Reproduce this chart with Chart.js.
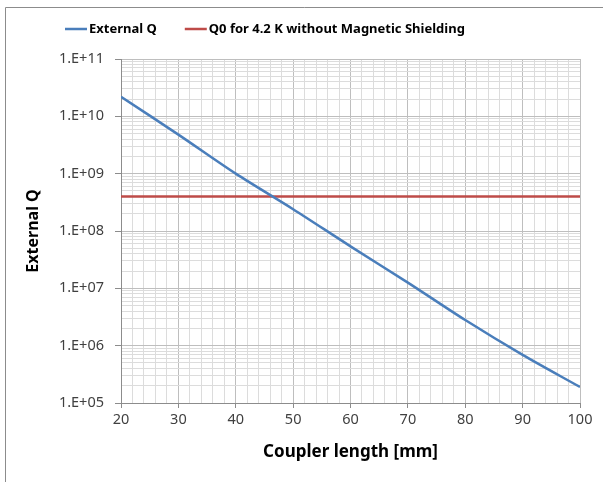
<!DOCTYPE html>
<html>
<head>
<meta charset="utf-8">
<script src="https://cdn.jsdelivr.net/npm/chart.js@4"></script>
<style>
  body { margin: 0; background: #fff; }
  #wrap { width: 603px; height: 482px; }
</style>
</head>
<body>
<div id="wrap"><canvas id="chart" width="603" height="482"></canvas></div>
<script>
const couplerLength = [20, 30, 40, 50, 60, 70, 80, 90, 100];
const externalQ = [2.2e10, 4.8e9, 1.0e9, 2.4e8, 5.4e7, 1.26e7, 2.8e6, 6.9e5, 1.9e5];
const q0Length = [20, 100];
const q0Values = [4e8, 4e8];
const seriesNames = ["External Q", "Q0 for 4.2 K without Magnetic Shielding"];
const seriesColors = ["#4a7ebb", "#be4b48"];

// log gridlines: 1..9 per decade from 1e5 to 1e11
const yTicks = [];
for (let e = 5; e <= 10; e++) {
  for (let s = 1; s <= 9; s++) yTicks.push(s * Math.pow(10, e));
}
yTicks.push(1e11);

function isDecade(v) {
  const l = Math.log10(v);
  return Math.abs(l - Math.round(l)) < 1e-9;
}

const fontFamily = "'Noto Sans', 'DejaVu Sans', sans-serif";

const frameAndLegend = {
  id: 'frameAndLegend',
  afterDraw(chart) {
    const ctx = chart.ctx;
    ctx.save();
    // outer frame (only left/top visible in the crop)
    ctx.strokeStyle = '#8c8c8c';
    ctx.lineWidth = 1;
    ctx.beginPath();
    ctx.moveTo(5.5, 482);
    ctx.lineTo(5.5, 7.5);
    ctx.lineTo(603, 7.5);
    ctx.stroke();

    // legend
    ctx.font = "bold 13px " + fontFamily;
    ctx.textBaseline = 'middle';
    ctx.fillStyle = '#000';
    const y = 29;
    let x = 65;
    seriesNames.forEach((name, i) => {
      ctx.strokeStyle = seriesColors[i];
      ctx.lineWidth = 2.5;
      ctx.beginPath();
      ctx.moveTo(x, y);
      ctx.lineTo(x + 22, y);
      ctx.stroke();
      ctx.fillText(name, x + 24, y);
      x += 24 + ctx.measureText(name).width + 28;
    });
    ctx.restore();
  }
};

new Chart(document.getElementById('chart'), {
  type: 'line',
  data: {
    datasets: [{
      label: seriesNames[0],
      data: couplerLength.map((v, i) => ({x: v, y: externalQ[i]})),
      borderColor: seriesColors[0],
      borderWidth: 2.5,
      pointRadius: 0,
      tension: 0.3
    }, {
      label: seriesNames[1],
      data: q0Length.map((v, i) => ({x: v, y: q0Values[i]})),
      borderColor: seriesColors[1],
      borderWidth: 2.5,
      pointRadius: 0
    }]
  },
  plugins: [frameAndLegend],
  options: {
    responsive: false,
    animation: false,
    layout: { padding: { top: 59, right: 23, left: 0, bottom: 0 } },
    plugins: {
      legend: { display: false },
      tooltip: { enabled: false }
    },
    scales: {
      x: {
        type: 'linear',
        min: 20,
        max: 100,
        afterFit: (axis) => { axis.height = 79; },
        ticks: {
          stepSize: 2,
          autoSkip: false,
          maxRotation: 0,
          padding: 3,
          color: '#404040',
          font: { family: fontFamily, size: 14.5 },
          callback: (v) => (v % 10 === 0 ? String(v) : '')
        },
        grid: {
          color: (c) => (c.tick && c.tick.value % 10 === 0 ? '#bebebe' : '#dcdcdc'),
          tickColor: (c) => (c.tick && c.tick.value % 10 === 0 ? '#8c8c8c' : 'rgba(0,0,0,0)'),
          tickLength: 5
        },
        border: { color: '#8c8c8c' },
        title: {
          display: true,
          text: 'Coupler length [mm]',
          color: '#000',
          font: { family: fontFamily, size: 17, weight: 'bold' },
          padding: { top: 0, bottom: 20 }
        }
      },
      y: {
        type: 'logarithmic',
        min: 1e5,
        max: 1e11,
        afterFit: (axis) => { axis.width = 121; },
        afterBuildTicks: (axis) => { axis.ticks = yTicks.map(v => ({value: v, major: isDecade(v)})); },
        ticks: {
          autoSkip: false,
          padding: 11,
          color: '#404040',
          font: { family: fontFamily, size: 14.5 },
          callback: (v) => {
            if (!isDecade(v)) return '';
            const e = Math.round(Math.log10(v));
            return '1.E+' + (e < 10 ? '0' + e : e);
          }
        },
        grid: {
          color: (c) => (c.tick && isDecade(c.tick.value) ? '#bebebe' : '#dcdcdc'),
          tickColor: (c) => (c.tick && isDecade(c.tick.value) ? '#8c8c8c' : 'rgba(0,0,0,0)'),
          tickLength: 6
        },
        border: { color: '#8c8c8c' },
        title: {
          display: true,
          text: 'External Q',
          color: '#000',
          font: { family: fontFamily, size: 16, weight: 'bold' },
          padding: { top: 24, bottom: 0 }
        }
      }
    }
  }
});
</script>
</body>
</html>
